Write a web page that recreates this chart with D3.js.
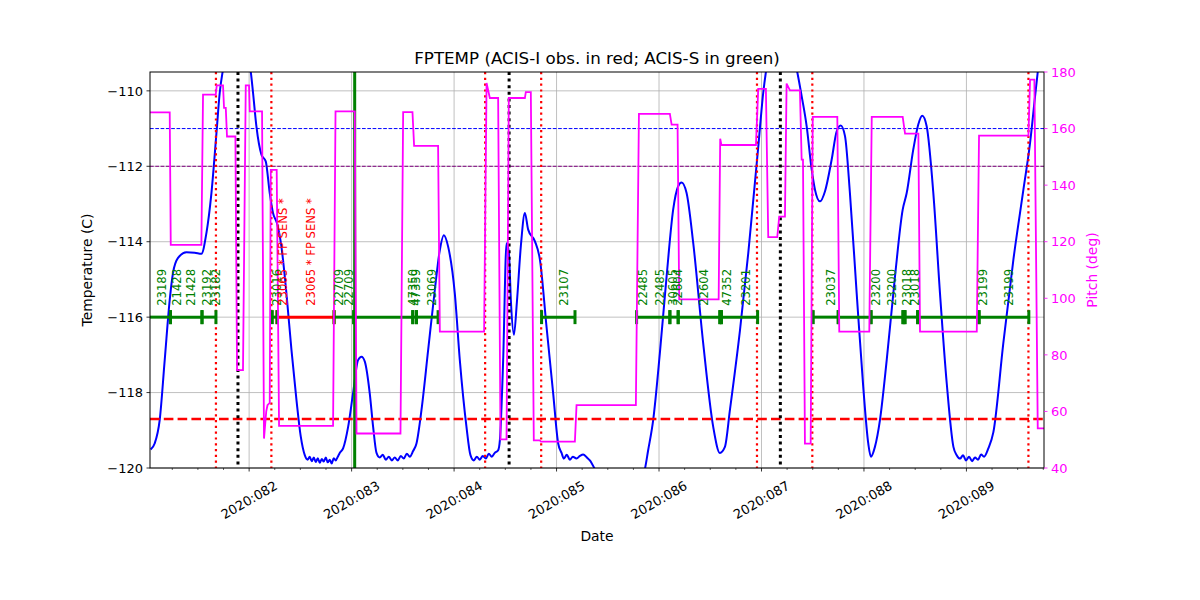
<!DOCTYPE html>
<html><head><meta charset="utf-8">
<script src="https://cdn.jsdelivr.net/npm/d3@7/dist/d3.min.js"></script>
<style>body{margin:0;background:#fff}text{font-family:"DejaVu Sans",sans-serif}</style>
</head><body><svg id="c" width="1200" height="600"></svg>
<script>
// ---- data (day-of-year 2020) ----
const tempTime = [81.039,81.078,81.127,81.176,81.225,81.257,81.306,81.388,81.469,81.534,
81.583,81.632,81.681,81.713,81.745,81.790,81.840,81.889,81.938,81.986,
82.016,82.038,82.071,82.120,82.162,82.201,82.233,82.272,82.315,82.364,
82.413,82.462,82.504,82.543,82.572,82.591,82.611,82.631,82.650,82.670,
82.689,82.709,82.728,82.748,82.767,82.787,82.806,82.826,82.845,82.865,
82.884,82.917,82.966,83.014,83.063,83.097,83.129,83.177,83.210,83.243,
83.275,83.304,83.334,83.363,83.392,83.421,83.451,83.480,83.509,83.539,
83.568,83.600,83.633,83.682,83.747,83.812,83.861,83.900,83.942,84.007,
84.056,84.121,84.160,84.193,84.222,84.251,84.280,84.310,84.339,84.368,
84.397,84.430,84.447,84.479,84.512,84.535,84.555,84.584,84.613,84.652,
84.691,84.723,84.789,84.838,84.902,84.967,85.016,85.049,85.071,85.100,
85.130,85.159,85.195,85.228,85.260,85.296,85.325,85.374,85.472,85.618,
85.765,85.862,85.894,85.943,86.008,86.074,86.138,86.187,86.220,86.269,
86.334,86.431,86.529,86.594,86.643,86.692,86.790,86.871,86.920,86.968,
87.017,87.043,87.082,87.131,87.180,87.229,87.278,87.349,87.392,87.441,
87.490,87.522,87.571,87.620,87.685,87.734,87.773,87.815,87.863,87.929,
87.993,88.042,88.068,88.107,88.156,88.222,88.303,88.378,88.417,88.481,
88.530,88.569,88.612,88.677,88.742,88.808,88.873,88.905,88.938,88.967,
88.996,89.026,89.055,89.084,89.113,89.143,89.172,89.214,89.263,89.360,
89.458,89.556,89.621,89.670,89.696,89.757];
const tempValue = [-119.51,-119.35,-118.73,-117.14,-115.54,-114.83,-114.43,-114.28,-114.29,-114.32,
-113.77,-112.71,-111.12,-110.05,-109.43,-108.85,-108.45,-108.35,-108.6,-109.2,
-109.5,-110.05,-110.94,-111.69,-111.87,-112.71,-113.24,-113.51,-114.13,-115.37,
-116.87,-118.2,-119.17,-119.66,-119.78,-119.7,-119.82,-119.72,-119.84,-119.74,
-119.86,-119.76,-119.83,-119.72,-119.85,-119.78,-119.88,-119.74,-119.8,-119.7,
-119.6,-119.48,-118.91,-118.02,-117.14,-117.05,-117.18,-118.02,-118.91,-119.6,
-119.72,-119.65,-119.78,-119.7,-119.8,-119.72,-119.8,-119.68,-119.75,-119.62,
-119.7,-119.55,-119.35,-118.46,-116.87,-115.28,-114.22,-113.83,-114.13,-115.37,
-117.14,-118.91,-119.66,-119.8,-119.7,-119.78,-119.68,-119.75,-119.62,-119.7,
-119.6,-119.53,-119.26,-117.14,-114.04,-114.3,-115.6,-116.47,-115.6,-114.1,
-113.24,-113.68,-113.99,-114.48,-116.25,-118.02,-119.35,-119.6,-119.75,-119.65,
-119.78,-119.7,-119.75,-119.68,-119.64,-119.72,-119.8,-120.03,-120.6,-121.2,
-120.6,-120.03,-119.53,-118.73,-116.96,-114.92,-113.15,-112.53,-112.43,-112.71,
-114.04,-116.69,-118.91,-119.6,-119.44,-118.46,-116.35,-114.3,-112.89,-111.5,
-110.05,-109.5,-108.9,-108.45,-108.3,-108.4,-108.75,-109.5,-110.14,-110.94,
-112.09,-112.62,-112.93,-112.66,-111.82,-111.07,-110.92,-111.2,-112.71,-115.37,
-117.85,-119.35,-119.7,-119.44,-118.73,-117.14,-114.92,-113.15,-112.71,-111.56,
-110.89,-110.66,-110.94,-112.71,-115.37,-117.76,-119.44,-119.66,-119.75,-119.66,
-119.8,-119.7,-119.82,-119.72,-119.78,-119.64,-119.7,-119.48,-119.05,-116.69,
-114.48,-112.62,-111.38,-110.14,-109.5,-108.3];

const pitchTime = [81.033,81.225,81.235,81.534,81.550,81.674,81.684,81.745,81.755,81.772,
81.784,81.866,81.882,81.940,81.967,81.999,82.006,82.126,82.145,82.167,
82.179,82.201,82.211,82.269,82.292,82.819,82.843,83.031,83.048,83.477,
83.503,83.594,83.610,83.844,83.861,84.293,84.317,84.349,84.430,84.453,
84.512,84.534,84.691,84.700,84.749,84.778,84.837,84.847,85.179,85.195,
85.774,85.804,86.106,86.123,86.181,86.197,86.582,86.597,86.609,86.946,
86.968,87.043,87.066,87.154,87.173,87.229,87.245,87.278,87.375,87.392,
87.405,87.424,87.480,87.500,87.740,87.759,88.052,88.076,88.378,88.401,
88.531,88.547,89.101,89.123,89.605,89.621,89.663,89.696,89.757];
const pitchValue = [165.7,165.7,118.9,118.9,172.0,172.0,175.3,175.3,167.3,167.3,
157.2,157.2,74.6,74.6,175.3,175.3,166.1,166.1,50.4,60,
62.2,63,145.4,145.4,54.9,54.9,166.1,166.1,52.2,52.2,
165.8,165.8,153.9,153.9,88.2,88.2,176.1,170.8,170.8,50.1,
50.1,170.8,170.8,172.9,172.9,49.8,49.8,49.3,49.3,62.2,
62.2,165.2,165.2,161.4,161.4,99.6,99.6,156.4,154.2,154.2,
174.0,174.0,121.6,121.6,128.9,128.9,175.9,173.5,173.5,149.0,
149.0,48.6,48.6,164.1,164.1,88.2,88.2,164.1,164.1,158.2,
158.2,88.2,88.2,157.5,157.5,177.3,177.3,54.0,54.0];

// observations drawn along -116 C
const obsStart = [81.0,81.232,81.540,82.226,82.272,82.829,83.021,83.597,83.633,84.854,85.781,86.106,86.187,86.594,86.609,87.505,87.749,88.069,88.381,88.400,88.524,89.123];
const obsStop  = [81.232,81.540,81.676,82.272,82.829,83.021,83.597,83.633,83.844,85.180,86.106,86.187,86.594,86.609,86.962,87.749,88.069,88.381,88.400,88.524,89.123,89.609];
const obsInstr = ['S','S','S','S','I','S','S','S','S','S','S','S','S','S','S','S','S','S','S','S','S','S'];

const labelTime = [81.150,81.290,81.430,81.589,81.671,82.269,82.328,82.601,82.878,82.975,83.602,83.631,83.780,85.068,85.846,86.009,86.138,86.187,86.438,86.660,86.848,87.675,88.117,88.271,88.423,88.498,89.159,89.409];
const labelText = ['23189','21428','21428','23192','23182','23016','23065 * FP SENS *','23065 * FP SENS *','22709','22709','47350','47359','23069','23107','22485','22485','30605','22604','22604','47352','23201','23037','23200','23200','23018','23018','23199','23199'];
const labelInstr = ['S','S','S','S','S','S','I','I','S','S','S','S','S','S','S','S','S','S','S','S','S','S','S','S','S','S','S','S'];

const redDotted = [81.676,82.217,84.303,84.850,86.956,87.496,89.605];
const blackDotted = [81.891,84.537,87.184];
const greenSolid = [83.030];
const limitBlue = -111, limitPurple = -112, limitRed = -118.7;
const obsLevel = -116, labelLevel = -115.7;

const dayTicks = [82,83,84,85,86,87,88,89];
const tempTicks = [-120,-118,-116,-114,-112,-110];
const pitchTicks = [40,60,80,100,120,140,160,180];

// ---- drawing ----
const L=150,R=1044,T=72,B=468;
const svg = d3.select('#c');
const x = d3.scaleLinear().domain([81.0325,89.757]).range([L,R]);
const y = d3.scaleLinear().domain([-120,-109.5]).range([B,T]);
const y2 = d3.scaleLinear().domain([40,180]).range([B,T]);
const GREEN='#008000', MAG='#ff00ff';
const instrColor = s => s==='I' ? '#ff0000' : GREEN;

svg.append('defs').append('clipPath').attr('id','clip').append('rect')
  .attr('x',L).attr('y',T).attr('width',R-L).attr('height',B-T);

// grid
const grid = svg.append('g').attr('stroke','#b0b0b0').attr('stroke-width',0.8);
dayTicks.forEach(d=>grid.append('line').attr('x1',x(d)).attr('x2',x(d)).attr('y1',T).attr('y2',B));
tempTicks.forEach(t=>grid.append('line').attr('x1',L).attr('x2',R).attr('y1',y(t)).attr('y2',y(t)));

const plot = svg.append('g').attr('clip-path','url(#clip)');

// temperature
const tData = tempTime.map((t,i)=>[t,tempValue[i]]);
plot.append('path').datum(tData)
  .attr('d',d3.line().x(d=>x(d[0])).y(d=>y(d[1])).curve(d3.curveMonotoneX))
  .attr('fill','none').attr('stroke','#0000ff').attr('stroke-width',2);

// limit lines
plot.append('line').attr('x1',L).attr('x2',R).attr('y1',y(limitBlue)).attr('y2',y(limitBlue))
  .attr('stroke','#0000ff').attr('stroke-width',1).attr('stroke-dasharray','3.7,1.6');
plot.append('line').attr('x1',L).attr('x2',R).attr('y1',y(limitPurple)).attr('y2',y(limitPurple))
  .attr('stroke','#800080').attr('stroke-width',1).attr('stroke-dasharray','3.7,1.6');
plot.append('line').attr('x1',L).attr('x2',R).attr('y1',y(limitRed)).attr('y2',y(limitRed))
  .attr('stroke','#ff0000').attr('stroke-width',2.6).attr('stroke-dasharray','9.6,4.2');

// vertical markers
redDotted.forEach(d=>plot.append('line').attr('x1',x(d)).attr('x2',x(d)).attr('y1',T).attr('y2',B)
  .attr('stroke','#ff0000').attr('stroke-width',2.2).attr('stroke-dasharray','2.2,3.6'));
blackDotted.forEach(d=>plot.append('line').attr('x1',x(d)).attr('x2',x(d)).attr('y1',T).attr('y2',B)
  .attr('stroke','#000').attr('stroke-width',3).attr('stroke-dasharray','3,3.6'));
greenSolid.forEach(d=>plot.append('line').attr('x1',x(d)).attr('x2',x(d)).attr('y1',T).attr('y2',B)
  .attr('stroke',GREEN).attr('stroke-width',3));

// observations
const order = d3.range(obsStart.length).sort((a,b)=>(obsInstr[a]==='I'?0:1)-(obsInstr[b]==='I'?0:1));
order.forEach(i=>{
  const c = instrColor(obsInstr[i]);
  plot.append('line').attr('x1',x(obsStart[i])).attr('x2',x(obsStop[i])).attr('y1',y(obsLevel)).attr('y2',y(obsLevel))
    .attr('stroke',c).attr('stroke-width',3);
  [obsStart[i],obsStop[i]].forEach(d=>plot.append('line').attr('x1',x(d)).attr('x2',x(d))
    .attr('y1',y(obsLevel)-7).attr('y2',y(obsLevel)+7).attr('stroke',c).attr('stroke-width',3));
});
labelTime.forEach((d,i)=>{
  svg.append('text').attr('transform',`translate(${x(d)},${y(labelLevel)}) rotate(-90)`)
    .attr('dy','0.36em').attr('font-size',11.6).attr('fill',instrColor(labelInstr[i])).text(labelText[i]);
});

// pitch on twin axis
const pData = pitchTime.map((t,i)=>[t,pitchValue[i]]);
plot.append('path').datum(pData)
  .attr('d',d3.line().x(d=>x(d[0])).y(d=>y2(d[1])))
  .attr('fill','none').attr('stroke',MAG).attr('stroke-width',1.8);

// frame
svg.append('rect').attr('x',L).attr('y',T).attr('width',R-L).attr('height',B-T)
  .attr('fill','none').attr('stroke','#000').attr('stroke-width',1);

// x axis
const xa = svg.append('g');
const minor = d3.range(81.25,89.76,0.25).filter(d=>d>=81.0325 && d<=89.757 && Math.abs(d-Math.round(d))>1e-6);
minor.forEach(d=>xa.append('line').attr('x1',x(d)).attr('x2',x(d)).attr('y1',B).attr('y2',B+2).attr('stroke','#000').attr('stroke-width',0.6));
dayTicks.forEach(d=>{
  xa.append('line').attr('x1',x(d)).attr('x2',x(d)).attr('y1',B).attr('y2',B+3.5).attr('stroke','#000').attr('stroke-width',0.8);
  xa.append('text').attr('transform',`translate(${x(d)},500) rotate(-30)`).attr('text-anchor','middle')
    .attr('dy','0.35em').attr('font-size',13).text('2020:' + String(d).padStart(3,'0'));
});
svg.append('text').attr('x',(L+R)/2).attr('y',541).attr('text-anchor','middle').attr('font-size',13.9).text('Date');

// left axis
const fmt = d3.format('d');
tempTicks.forEach(t=>{
  svg.append('line').attr('x1',L-3.5).attr('x2',L).attr('y1',y(t)).attr('y2',y(t)).attr('stroke','#000').attr('stroke-width',0.8);
  svg.append('text').attr('x',L-7).attr('y',y(t)).attr('dy','0.36em').attr('text-anchor','end').attr('font-size',13).text(fmt(t));
});
svg.append('text').attr('transform',`translate(92,${(T+B)/2}) rotate(-90)`).attr('text-anchor','middle')
  .attr('font-size',13.9).text('Temperature (C)');

// right axis
pitchTicks.forEach(p=>{
  svg.append('line').attr('x1',R).attr('x2',R+3.5).attr('y1',y2(p)).attr('y2',y2(p)).attr('stroke',MAG).attr('stroke-width',0.8);
  svg.append('text').attr('x',R+7).attr('y',y2(p)).attr('dy','0.36em').attr('font-size',13).attr('fill',MAG).text(p);
});
svg.append('text').attr('transform',`translate(1097,${(T+B)/2}) rotate(-90)`).attr('text-anchor','middle')
  .attr('font-size',13.9).attr('fill',MAG).text('Pitch (deg)');

// title
svg.append('text').attr('x',(L+R)/2).attr('y',64).attr('text-anchor','middle').attr('font-size',16.7)
  .text('FPTEMP (ACIS-I obs. in red; ACIS-S in green)');
</script></body></html>
